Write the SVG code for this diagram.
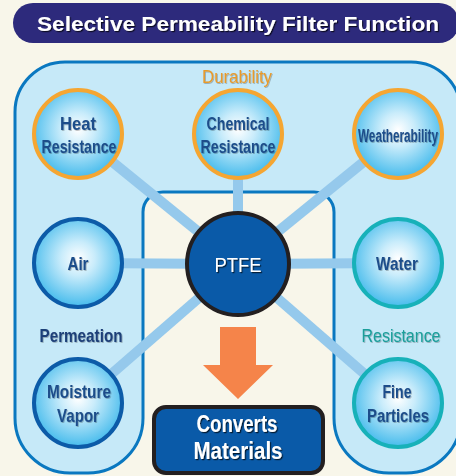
<svg xmlns="http://www.w3.org/2000/svg" width="456" height="476" viewBox="0 0 456 476">
<defs>
<radialGradient id="bub" cx="0.5" cy="0.45" r="0.55">
<stop offset="0" stop-color="#ffffff"/>
<stop offset="0.35" stop-color="#c9ecfb"/>
<stop offset="1" stop-color="#45bbec"/>
</radialGradient>
<filter id="sh" x="-10%" y="-20%" width="130%" height="150%">
<feDropShadow dx="0.8" dy="0.8" stdDeviation="0.5" flood-color="#000" flood-opacity="0.3"/>
</filter>
<filter id="shd" x="-10%" y="-20%" width="130%" height="150%">
<feDropShadow dx="1.2" dy="1.2" stdDeviation="0.5" flood-color="#000" flood-opacity="0.7"/>
</filter>
<style>
.lbl{font-family:"Liberation Sans",Arial,sans-serif;font-weight:bold;font-size:18.5px;fill:#1d4d8a;text-anchor:middle;filter:url(#sh)}
.bub{fill:url(#bub);stroke-width:4}
.or{stroke:#f5a632}
.bl{stroke:#0c5ba8}
.tl{stroke:#17b1b9}
.con{stroke:#95c9ec;stroke-width:10;stroke-linecap:butt}
</style>
</defs>
<rect x="0" y="0" width="456" height="476" fill="#f8f6ea"/>
<g id="title">
<rect x="13" y="3" width="446" height="40" rx="20" fill="#2d2a7c"/>
<text x="238" y="31" font-family="Liberation Sans,Arial,sans-serif" font-weight="bold" font-size="21" fill="#fff" text-anchor="middle" textLength="402" lengthAdjust="spacingAndGlyphs" filter="url(#shd)">Selective Permeability Filter Function</text>
</g>
<g id="container">
<path d="M15,112 A50,50 0 0 1 65,62 H411 A50,50 0 0 1 461,112 V418 A55,55 0 0 1 406,473 H389 A55,55 0 0 1 334,418 V212 A20,20 0 0 0 314,192 H163 A20,20 0 0 0 143,212 V418 A55,55 0 0 1 88,473 H70 A55,55 0 0 1 15,418 Z" fill="#c6e9f8" stroke="#0a78c0" stroke-width="3"/>
<text x="237" y="83" font-family="Liberation Sans,Arial,sans-serif" font-size="17.5" fill="#e89a2c" text-anchor="middle" textLength="70" lengthAdjust="spacingAndGlyphs" filter="url(#sh)">Durability</text>
<text x="81" y="342" class="lbl" textLength="83" lengthAdjust="spacingAndGlyphs" style="fill:#1e3f78">Permeation</text>
<text x="401" y="342" class="lbl" textLength="79" lengthAdjust="spacingAndGlyphs" style="fill:#1a9e9a;font-weight:normal">Resistance</text>
</g>
<g id="connectors">
<line class="con" x1="238" y1="264" x2="78" y2="134"/>
<line class="con" x1="238" y1="264" x2="238" y2="134"/>
<line class="con" x1="238" y1="264" x2="398" y2="134"/>
<line class="con" x1="238" y1="264" x2="78" y2="263"/>
<line class="con" x1="238" y1="264" x2="398" y2="263"/>
<line class="con" x1="238" y1="264" x2="78" y2="403"/>
<line class="con" x1="238" y1="264" x2="398" y2="403"/>
<polygon points="220,327 256,327 256,365 273,365 238,399 203,365 220,365" fill="#f5844a"/>
</g>
<g id="heat">
<circle class="bub or" cx="78" cy="134" r="44"/>
<text class="lbl" x="78" y="130" textLength="36" lengthAdjust="spacingAndGlyphs">Heat</text>
<text class="lbl" x="79" y="153" textLength="75" lengthAdjust="spacingAndGlyphs">Resistance</text>
</g>
<g id="chemical">
<circle class="bub or" cx="238" cy="134" r="44"/>
<text class="lbl" x="238" y="130" textLength="63" lengthAdjust="spacingAndGlyphs">Chemical</text>
<text class="lbl" x="238" y="153" textLength="75" lengthAdjust="spacingAndGlyphs">Resistance</text>
</g>
<g id="weather">
<circle class="bub or" cx="398" cy="134" r="44"/>
<text class="lbl" x="398" y="142" textLength="80" lengthAdjust="spacingAndGlyphs" style="font-size:17.5px">Weatherability</text>
</g>
<g id="air">
<circle class="bub bl" cx="78" cy="263" r="44"/>
<text class="lbl" x="78" y="270" textLength="21" lengthAdjust="spacingAndGlyphs">Air</text>
</g>
<g id="water">
<circle class="bub tl" cx="398" cy="263" r="44"/>
<text class="lbl" x="397" y="270" textLength="42" lengthAdjust="spacingAndGlyphs">Water</text>
</g>
<g id="moisture">
<circle class="bub bl" cx="78" cy="403" r="44"/>
<text class="lbl" x="79" y="398" textLength="64" lengthAdjust="spacingAndGlyphs">Moisture</text>
<text class="lbl" x="78" y="422" textLength="42" lengthAdjust="spacingAndGlyphs">Vapor</text>
</g>
<g id="fine">
<circle class="bub tl" cx="398" cy="403" r="44"/>
<text class="lbl" x="397" y="398" textLength="29" lengthAdjust="spacingAndGlyphs">Fine</text>
<text class="lbl" x="398" y="422" textLength="62" lengthAdjust="spacingAndGlyphs">Particles</text>
</g>
<g id="ptfe">
<circle cx="238" cy="264" r="51" fill="#0a5aa8" stroke="#231f20" stroke-width="4"/>
<text x="238" y="272" font-family="Liberation Sans,Arial,sans-serif" font-size="20" fill="#fff" text-anchor="middle" textLength="47" lengthAdjust="spacingAndGlyphs" filter="url(#shd)">PTFE</text>
</g>
<g id="converts">
<rect x="154" y="407" width="169" height="66" rx="12" fill="#0a5aa8" stroke="#231f20" stroke-width="4"/>
<text x="237" y="432" font-family="Liberation Sans,Arial,sans-serif" font-weight="bold" font-size="23" fill="#fff" text-anchor="middle" textLength="81" lengthAdjust="spacingAndGlyphs" filter="url(#shd)">Converts</text>
<text x="238" y="459" font-family="Liberation Sans,Arial,sans-serif" font-weight="bold" font-size="23" fill="#fff" text-anchor="middle" textLength="89" lengthAdjust="spacingAndGlyphs" filter="url(#shd)">Materials</text>
</g>
</svg>
